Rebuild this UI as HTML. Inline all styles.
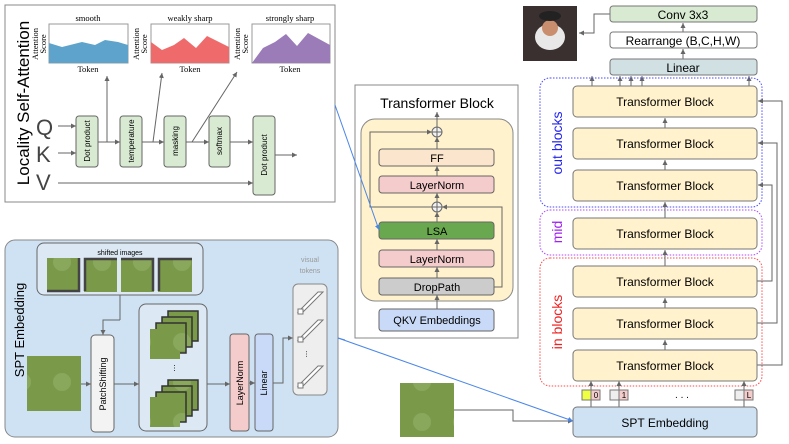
<!DOCTYPE html>
<html><head><meta charset="utf-8"><style>
body{margin:0;background:#fff}
svg{display:block;font-family:"Liberation Sans",sans-serif}
.s{font-family:"Liberation Serif",serif}
</style></head><body>
<svg width="789" height="444" viewBox="0 0 789 444" xmlns="http://www.w3.org/2000/svg">
<defs>
<marker id="a" markerWidth="6" markerHeight="6" refX="5" refY="3" orient="auto"><path d="M0,0.5 L5,3 L0,5.5z" fill="#666"/></marker>
<marker id="b" markerWidth="6" markerHeight="6" refX="5" refY="3" orient="auto"><path d="M0,0.5 L5,3 L0,5.5z" fill="#4a86e8"/></marker>
<pattern id="img" width="40" height="40" patternUnits="userSpaceOnUse"><rect width="40" height="40" fill="#7a9a4a"/><circle cx="22" cy="22" r="9" fill="#8aa85c"/></pattern>
</defs>
<!-- LSA panel -->
<rect x="5" y="5" width="330" height="197" fill="#fff" stroke="#888"/>
<text transform="translate(29,103) rotate(-90)" font-size="17" text-anchor="middle">Locality Self-Attention</text>
<g class="s" font-size="8.5" text-anchor="middle">
<text x="88" y="21">smooth</text><text x="190" y="21">weakly sharp</text><text x="290" y="21">strongly sharp</text>
<text x="88" y="72">Token</text><text x="190" y="72">Token</text><text x="290" y="72">Token</text>
<text transform="translate(38,44) rotate(-90)">Attention</text><text transform="translate(46,44) rotate(-90)">Score</text>
<text transform="translate(139,44) rotate(-90)">Attention</text><text transform="translate(147,44) rotate(-90)">Score</text>
<text transform="translate(240,44) rotate(-90)">Attention</text><text transform="translate(248,44) rotate(-90)">Score</text>
</g>
<rect x="49" y="24" width="79" height="39" fill="#fff" stroke="#999"/>
<path d="M49,43 L62,47 L82,42 L95,45 L105,40 L118,42 L128,45 L128,63 L49,63z" fill="#5ea3cc"/>
<rect x="151" y="24" width="78" height="39" fill="#fff" stroke="#999"/>
<path d="M151,42 L162,50 L174,45 L184,38 L196,48 L207,36 L229,47 L229,63 L151,63z" fill="#ef6b6b"/>
<rect x="252" y="24" width="78" height="39" fill="#fff" stroke="#999"/>
<path d="M252,63 L263,48 L275,42 L286,34 L297,46 L308,33 L330,45 L330,63z" fill="#9b7bb8"/>
<g font-size="22" fill="#444"><text x="36" y="135">Q</text><text x="36" y="162">K</text><text x="36" y="190">V</text></g>
<g stroke="#666" fill="none" stroke-width="1">
<line x1="58" y1="126" x2="76" y2="126" marker-end="url(#a)"/>
<line x1="58" y1="153" x2="76" y2="153" marker-end="url(#a)"/>
<line x1="58" y1="183" x2="253" y2="183" marker-end="url(#a)"/>
<line x1="98" y1="142" x2="120" y2="142" marker-end="url(#a)"/>
<line x1="142" y1="142" x2="164" y2="142" marker-end="url(#a)"/>
<line x1="186" y1="142" x2="209" y2="142" marker-end="url(#a)"/>
<line x1="230" y1="142" x2="253" y2="142" marker-end="url(#a)"/>
<line x1="275" y1="155" x2="297" y2="155" marker-end="url(#a)"/>
<line x1="107" y1="142" x2="107" y2="76" marker-end="url(#a)"/>
<line x1="153" y1="142" x2="162" y2="73" marker-end="url(#a)"/>
<line x1="192" y1="142" x2="237" y2="72" marker-end="url(#a)"/>
</g>
<g fill="#d9ead3" stroke="#666">
<rect x="76" y="116" width="22" height="51" rx="3"/><rect x="120" y="116" width="22" height="51" rx="3"/>
<rect x="164" y="116" width="22" height="51" rx="3"/><rect x="209" y="116" width="21" height="51" rx="3"/>
<rect x="253" y="116" width="22" height="79" rx="3"/></g>
<g font-size="8" text-anchor="middle">
<text transform="translate(90,141) rotate(-90)">Dot product</text>
<text transform="translate(134,141) rotate(-90)">temperature</text>
<text transform="translate(178,141) rotate(-90)">masking</text>
<text transform="translate(222,141) rotate(-90)">softmax</text>
<text transform="translate(267,155) rotate(-90)">Dot product</text></g>
<!-- SPT panel -->
<rect x="5" y="240" width="333" height="197" rx="10" fill="#cfe2f3" stroke="#888"/>
<text transform="translate(24,330) rotate(-90)" font-size="13" text-anchor="middle">SPT Embedding</text>
<rect x="37" y="243" width="166" height="52" rx="7" fill="#dce8f3" stroke="#666"/>
<text x="120" y="255" font-size="7" text-anchor="middle">shifted images</text>
<rect x="47" y="258" width="33" height="34" fill="url(#img)"/><rect x="84" y="258" width="33" height="34" fill="url(#img)"/>
<rect x="121" y="258" width="33" height="34" fill="url(#img)"/><rect x="158" y="258" width="34" height="34" fill="url(#img)"/>
<g stroke="#444" stroke-width="2.5" fill="none"><path d="M79,258 V291 H47"/><path d="M85,291 V259 H117"/><path d="M121,259 H153 V291"/><path d="M159,291 V259 H192"/></g>
<line x1="120" y1="295" x2="120" y2="320" stroke="#666"/>
<polyline points="120,320 103,320 103,335" fill="none" stroke="#666" marker-end="url(#a)"/>
<rect x="27" y="356" width="54" height="55" fill="url(#img)"/>
<line x1="81" y1="384" x2="91" y2="384" stroke="#666" marker-end="url(#a)"/>
<rect x="91" y="335" width="23" height="97" rx="4" fill="#f3f3f3" stroke="#666"/>
<text transform="translate(106,384) rotate(-90)" font-size="9" text-anchor="middle">PatchShifting</text>
<line x1="114" y1="384" x2="139" y2="384" stroke="#666" marker-end="url(#a)"/>
<rect x="139" y="304" width="68" height="127" rx="7" fill="#dce8f3" stroke="#666"/>
<g stroke="#333" stroke-width="1.5">
<rect x="168" y="311" width="30" height="30" fill="url(#img)"/><rect x="162" y="317" width="30" height="30" fill="url(#img)"/><rect x="156" y="323" width="30" height="30" fill="url(#img)"/><rect x="150" y="329" width="30" height="30" fill="url(#img)" stroke="none"/>
<rect x="168" y="380" width="30" height="30" fill="url(#img)"/><rect x="162" y="386" width="30" height="30" fill="url(#img)"/><rect x="156" y="392" width="30" height="30" fill="url(#img)"/><rect x="150" y="397" width="30" height="30" fill="url(#img)" stroke="none"/></g>
<text x="178" y="372" font-size="9" text-anchor="middle" transform="rotate(90 178 368)">...</text>
<line x1="207" y1="384" x2="230" y2="384" stroke="#666" marker-end="url(#a)"/>
<rect x="230" y="334" width="19" height="97" rx="3" fill="#f4cccc" stroke="#666"/>
<text transform="translate(243,383) rotate(-90)" font-size="9" text-anchor="middle">LayerNorm</text>
<line x1="249" y1="383" x2="255" y2="383" stroke="#666" marker-end="url(#a)"/>
<rect x="255" y="334" width="18" height="97" rx="3" fill="#c9daf8" stroke="#666"/>
<text transform="translate(267,383) rotate(-90)" font-size="9" text-anchor="middle">Linear</text>
<polyline points="273,383 283,383 283,338 293,338" fill="none" stroke="#666" marker-end="url(#a)"/>
<text x="310" y="262" font-size="7" fill="#999" text-anchor="middle">visual</text><text x="310" y="273" font-size="7" fill="#999" text-anchor="middle">tokens</text>
<rect x="293" y="284" width="34" height="111" rx="5" fill="#eee" stroke="#888"/>
<g stroke="#777" fill="#fff">
<path d="M298,312 L318,292 L323,292 L303,312z"/><rect x="298" y="309" width="5" height="5"/>
<path d="M298,340 L318,320 L323,320 L303,340z"/><rect x="298" y="337" width="5" height="5"/>
<path d="M298,386 L318,366 L323,366 L303,386z"/><rect x="298" y="383" width="5" height="5"/></g>
<text x="310" y="358" font-size="8" text-anchor="middle" transform="rotate(90 310 354)">...</text>
<!-- Transformer block panel -->
<rect x="355" y="85" width="163" height="253" fill="#fff" stroke="#888"/>
<text x="437" y="108" font-size="14" text-anchor="middle">Transformer Block</text>
<rect x="361" y="119" width="152" height="182" rx="14" fill="#fff2cc" stroke="#888"/>
<g stroke="#666" fill="none">
<line x1="437" y1="309" x2="437" y2="295" marker-end="url(#a)"/>
<line x1="437" y1="278" x2="437" y2="267" marker-end="url(#a)"/>
<line x1="437" y1="250" x2="437" y2="239" marker-end="url(#a)"/>
<line x1="437" y1="222" x2="437" y2="212" marker-end="url(#a)"/>
<line x1="437" y1="202" x2="437" y2="193" marker-end="url(#a)"/>
<line x1="437" y1="176" x2="437" y2="166" marker-end="url(#a)"/>
<line x1="437" y1="149" x2="437" y2="137" marker-end="url(#a)"/>
<line x1="437" y1="127" x2="437" y2="112" marker-end="url(#a)"/>
<polyline points="494,287 502,287 502,207 442,207" marker-end="url(#a)"/>
<polyline points="437,207 370,207 370,132 432,132" marker-end="url(#a)"/>
</g>
<circle cx="437" cy="132" r="5" fill="#f3f3f3" stroke="#666"/><path d="M432,132H442M437,127V137" stroke="#666"/>
<circle cx="437" cy="207" r="5" fill="#f3f3f3" stroke="#666"/><path d="M432,207H442M437,202V212" stroke="#666"/>
<g stroke="#666" font-size="11" text-anchor="middle">
<rect x="379" y="149" width="115" height="17" rx="3" fill="#fce5cd"/>
<rect x="379" y="176" width="115" height="17" rx="3" fill="#f4cccc"/>
<rect x="379" y="222" width="115" height="17" rx="3" fill="#6aa84f"/>
<rect x="379" y="250" width="115" height="17" rx="3" fill="#f4cccc"/>
<rect x="379" y="278" width="115" height="17" rx="3" fill="#ccc"/>
<rect x="379" y="309" width="115" height="22" rx="3" fill="#c9daf8"/></g>
<g font-size="11" text-anchor="middle">
<text x="437" y="162">FF</text><text x="437" y="189">LayerNorm</text><text x="437" y="235">LSA</text>
<text x="437" y="263">LayerNorm</text><text x="437" y="291">DropPath</text><text x="437" y="324">QKV Embeddings</text></g>
<!-- right stack -->
<rect x="523" y="6" width="54" height="55" fill="#3a3030"/>
<ellipse cx="550" cy="37" rx="15" ry="13" fill="#e8e8e8"/><circle cx="550" cy="28" r="8" fill="#c98e6e"/><ellipse cx="550" cy="16" rx="11" ry="5" fill="#222"/>
<g stroke="#666" fill="none">
<polyline points="610,14 594,14 594,33 579,33" marker-end="url(#a)"/>
<line x1="683" y1="32" x2="683" y2="23" marker-end="url(#a)"/>
<line x1="683" y1="59" x2="683" y2="49" marker-end="url(#a)"/>
<line x1="592" y1="86" x2="592" y2="76" marker-end="url(#a)"/>
<line x1="620" y1="86" x2="620" y2="76" marker-end="url(#a)"/>
<line x1="631" y1="86" x2="631" y2="76" marker-end="url(#a)"/>
<line x1="642" y1="86" x2="642" y2="76" marker-end="url(#a)"/>
<line x1="749" y1="86" x2="749" y2="76" marker-end="url(#a)"/>
</g>
<rect x="610" y="6" width="147" height="16" rx="3" fill="#d9ead3" stroke="#777"/>
<rect x="610" y="32" width="147" height="16" rx="3" fill="#fff" stroke="#777"/>
<rect x="610" y="59" width="147" height="16" rx="3" fill="#d0e0e3" stroke="#777"/>
<g font-size="12" text-anchor="middle"><text x="683" y="19">Conv 3x3</text><text x="683" y="45">Rearrange (B,C,H,W)</text><text x="683" y="72">Linear</text></g>
<rect x="540" y="78" width="222" height="129" rx="10" fill="none" stroke="#4a4aff" stroke-dasharray="1.5,1.5"/>
<rect x="540" y="210" width="222" height="45" rx="10" fill="none" stroke="#b04aff" stroke-dasharray="1.5,1.5"/>
<rect x="540" y="258" width="222" height="128" rx="10" fill="none" stroke="#ff4a4a" stroke-dasharray="1.5,1.5"/>
<g font-size="14" text-anchor="middle">
<text transform="translate(562,143) rotate(-90)" fill="#2222ee">out blocks</text>
<text transform="translate(562,232) rotate(-90)" fill="#a020f0">mid</text>
<text transform="translate(562,322) rotate(-90)" fill="#ee2222">in blocks</text></g>
<g stroke="#666" fill="none">
<line x1="665" y1="128" x2="665" y2="118" marker-end="url(#a)"/>
<line x1="665" y1="170" x2="665" y2="160" marker-end="url(#a)"/>
<line x1="665" y1="218" x2="665" y2="202" marker-end="url(#a)"/>
<line x1="665" y1="266" x2="665" y2="250" marker-end="url(#a)"/>
<line x1="665" y1="308" x2="665" y2="298" marker-end="url(#a)"/>
<line x1="665" y1="350" x2="665" y2="340" marker-end="url(#a)"/>
<polyline points="757,281 772,281 772,185 758,185" marker-end="url(#a)"/>
<polyline points="757,323 777,323 777,143 758,143" marker-end="url(#a)"/>
<polyline points="757,365 782,365 782,101 758,101" marker-end="url(#a)"/>
<line x1="591" y1="407" x2="591" y2="381" marker-end="url(#a)"/>
<line x1="619" y1="407" x2="619" y2="381" marker-end="url(#a)"/>
<line x1="744" y1="407" x2="744" y2="381" marker-end="url(#a)"/>
<polyline points="454,410 513,410 513,421 573,421" marker-end="url(#a)"/>
</g>
<g fill="#fff2cc" stroke="#777">
<rect x="573" y="86" width="184" height="31" rx="4"/><rect x="573" y="128" width="184" height="31" rx="4"/>
<rect x="573" y="170" width="184" height="31" rx="4"/><rect x="573" y="218" width="184" height="31" rx="4"/>
<rect x="573" y="266" width="184" height="31" rx="4"/><rect x="573" y="308" width="184" height="31" rx="4"/>
<rect x="573" y="350" width="184" height="31" rx="4"/></g>
<g font-size="12" text-anchor="middle">
<text x="665" y="106">Transformer Block</text><text x="665" y="148">Transformer Block</text>
<text x="665" y="190">Transformer Block</text><text x="665" y="238">Transformer Block</text>
<text x="665" y="286">Transformer Block</text><text x="665" y="328">Transformer Block</text>
<text x="665" y="370">Transformer Block</text></g>
<g stroke="#777" font-size="8">
<rect x="582" y="390" width="9" height="10" fill="#eeff44"/><rect x="591" y="390" width="9" height="10" fill="#f4cccc"/>
<rect x="610" y="390" width="9" height="10" fill="#eee"/><rect x="619" y="390" width="9" height="10" fill="#f4cccc"/>
<rect x="735" y="390" width="9" height="10" fill="#eee"/><rect x="744" y="390" width="9" height="10" fill="#f4cccc"/></g>
<g font-size="8" text-anchor="middle"><text x="596" y="398">0</text><text x="624" y="398">1</text><text x="749" y="398">L</text><text x="682" y="398" font-size="10">. . .</text></g>
<rect x="573" y="407" width="184" height="30" rx="4" fill="#cfe2f3" stroke="#777"/>
<text x="665" y="427" font-size="12" text-anchor="middle">SPT Embedding</text>
<rect x="400" y="383" width="54" height="54" fill="url(#img)"/>
<!-- blue links -->
<line x1="335" y1="105" x2="379" y2="230" stroke="#4a86e8" marker-end="url(#b)"/>
<line x1="338" y1="338" x2="573" y2="421" stroke="#4a86e8" marker-end="url(#b)"/>
<line x1="338" y1="338" x2="345" y2="340" stroke="#4a86e8"/>
</svg>
</body></html>
